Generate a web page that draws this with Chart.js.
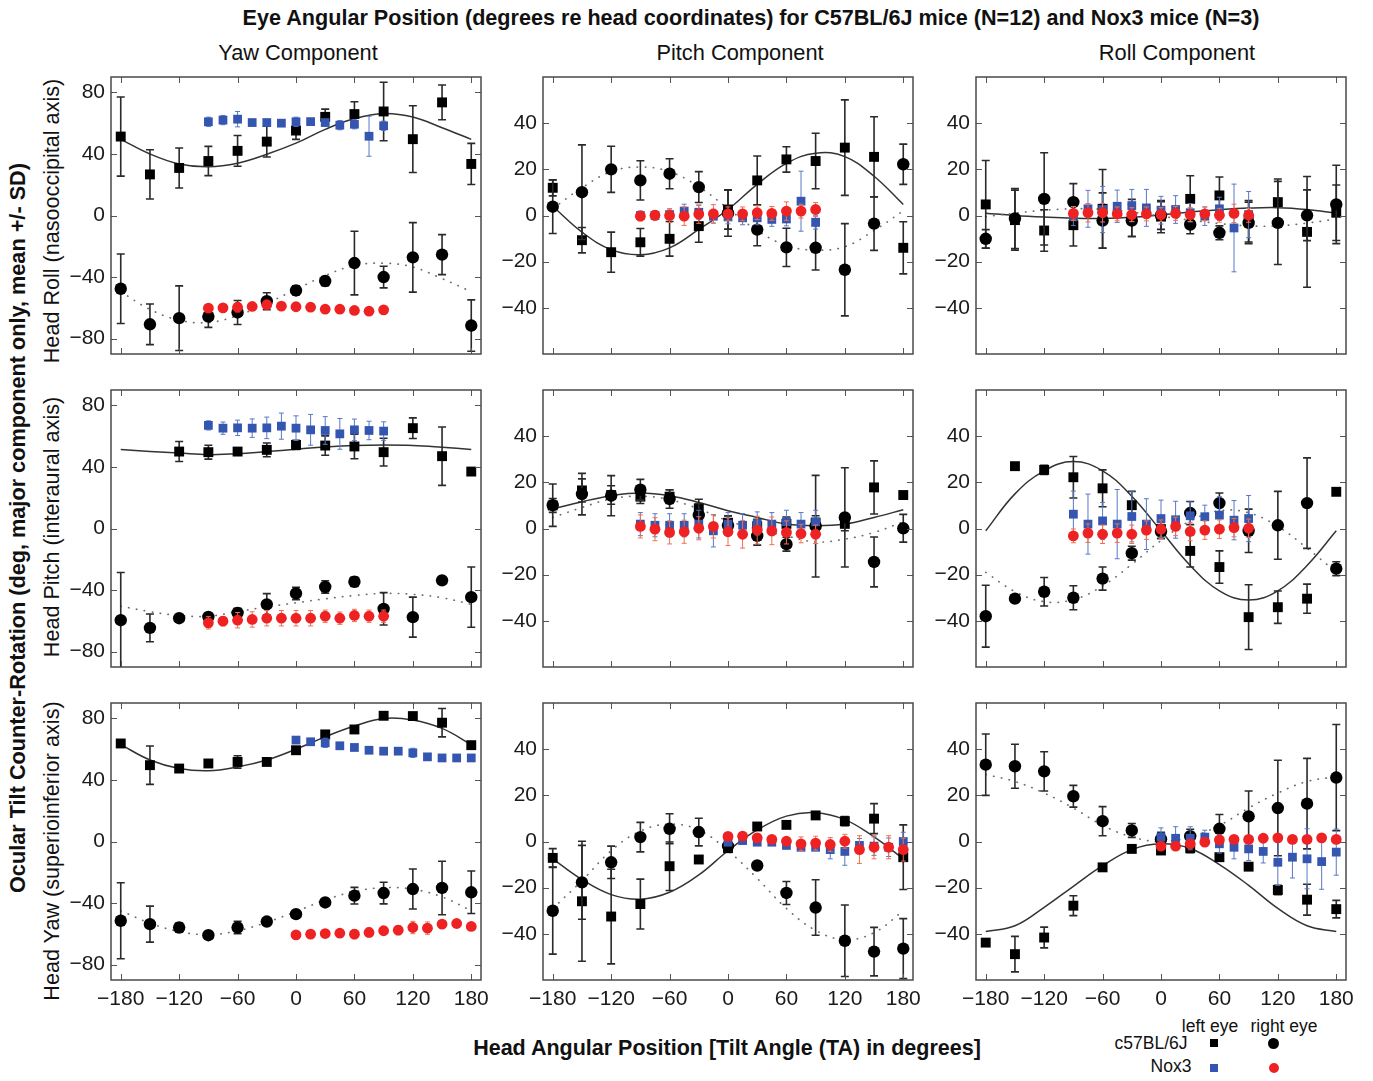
<!DOCTYPE html>
<html><head><meta charset="utf-8">
<script src="https://cdn.jsdelivr.net/npm/chart.js@4.4.1/dist/chart.umd.min.js"></script>
<style>
html,body{margin:0;padding:0;background:#fff;}
body{width:1373px;height:1081px;position:relative;overflow:hidden;font-family:"Liberation Sans",Arial,sans-serif;color:#111;}
canvas{position:absolute;}
.t{position:absolute;white-space:nowrap;transform:translate(-50%,-50%);line-height:1;}
.rot{transform:translate(-50%,-50%) rotate(-90deg);}
.b{font-weight:bold;}
.mk{position:absolute;}
</style></head><body>
<div class="t b" style="left:751px;top:18px;font-size:21.6px;">Eye Angular Position (degrees re head coordinates) for C57BL/6J mice (N=12) and Nox3 mice (N=3)</div>
<div class="t" style="left:298px;top:53px;font-size:21.8px;">Yaw Component</div>
<div class="t" style="left:740px;top:53px;font-size:21.8px;">Pitch Component</div>
<div class="t" style="left:1177px;top:53px;font-size:21.8px;">Roll Component</div>
<div class="t rot" style="left:52px;top:221px;font-size:21.6px;">Head Roll (nasooccipital axis)</div>
<div class="t rot" style="left:52px;top:527px;font-size:21.6px;">Head Pitch (interaural axis)</div>
<div class="t rot" style="left:52px;top:851px;font-size:21.6px;">Head Yaw (superioinferior axis)</div>
<div class="t rot b" style="left:18px;top:528px;font-size:21.7px;">Ocular Tilt Counter-Rotation (deg, major component only, mean +/- SD)</div>
<div class="t b" style="left:727px;top:1049px;font-size:21.5px;">Head Angular Position [Tilt Angle (TA) in degrees]</div>
<div class="t" style="left:1210px;top:1027px;font-size:17.5px;">left eye</div>
<div class="t" style="left:1284px;top:1027px;font-size:17.5px;">right eye</div>
<div class="t" style="left:1151px;top:1044px;font-size:17.5px;">c57BL/6J</div>
<div class="t" style="left:1171px;top:1067px;font-size:17.5px;">Nox3</div>
<div class="mk" style="left:1210px;top:1039px;width:8px;height:8px;background:#000;"></div>
<div class="mk" style="left:1268px;top:1038px;width:11px;height:11px;border-radius:50%;background:#000;"></div>
<div class="mk" style="left:1210px;top:1064px;width:8px;height:8px;background:#3556b0;"></div>
<div class="mk" style="left:1269px;top:1063px;width:10px;height:10px;border-radius:50%;background:#ee2222;"></div>
<script>
// ---------- tick positions (degrees) ----------
const taC57 = [-180,-150,-120,-90,-60,-30,0,30,60,90,120,150,180];
const taNoxMid = [-90,-75,-60,-45,-30,-15,0,15,30,45,60,75,90];
const taNoxPos = [0,15,30,45,60,75,90,105,120,135,150,165,180];
const taFit = [-180,-150,-120,-90,-60,-30,0,30,60,90,120,150,180];
const xTicks = [-180,-120,-60,0,60,120,180];
const yTicksYaw = [-80,-40,0,40,80];
const yTicksPR = [-40,-20,0,20,40];

// ---------- Head Roll : Yaw component ----------
const rollY_c57L = [51.3,26.7,30.9,35.4,42,48,55.2,64.1,65.9,67.6,49.6,73.5,33.5];
const rollY_c57L_sd = [25.7,16,13,9.5,10,10,5.7,5,8,19,21.7,11.3,13.4];
const rollY_c57R = [-47.6,-70.7,-66.7,-65.7,-63,-55.7,-48.7,-42.6,-30.9,-40,-27.2,-25.4,-71.5];
const rollY_c57R_sd = [22.6,13.2,21,7,7.8,5.5,3,3,20.7,7,22.6,13,16.7];
const rollY_noxL = [60.9,62,62.6,60.4,60.4,60,60.9,61,60.4,58.7,59.3,51.5,58.3];
const rollY_noxL_sd = [3,3,5,1,1,1,3,1,1,3,3,13,3];
const rollY_noxR = [-60.2,-60,-59.6,-59.1,-58,-58.9,-59.3,-59.6,-60.9,-60.9,-61.7,-62.2,-61.3];
const rollY_noxR_sd = [2,2,3,2,2,2,2,2,2,2,2,2,2];
const rollY_fitL = [49.5,40,33.5,31.7,34,39.8,47,56,63,66.3,64,57,49.5];
const rollY_fitR = [-49.5,-61,-68,-69.5,-65,-57,-48,-39,-32.5,-31,-33.5,-41,-49.5];

// ---------- Head Roll : Pitch component ----------
const rollP_c57L = [12,-10.7,-15.9,-11.6,-10.1,-4.6,2.6,15.2,24.3,23.6,29.4,25.4,-14];
const rollP_c57L_sd = [3.5,5.5,8.7,6,7.5,7,8.5,10.6,5.5,12,20.7,17.4,11.3];
const rollP_c57R = [3.8,10.1,20,15.2,18.1,12.3,1,-6.1,-13.8,-14,-23.5,-3.5,22.2];
const rollP_c57R_sd = [11.6,20.5,10,8.5,6.5,6.7,10,7,8.3,9.6,20,11.6,8.7];
const rollP_noxL = [0,0,0.4,1.9,1.4,-0.3,-0.6,-1,-1,-1.7,-1.5,6.2,-2.9];
const rollP_noxL_sd = [2,2,2,3,3,3,3,3,3,3,3,13,3];
const rollP_noxR = [-0.3,0.1,0,-0.3,0.6,0.7,0.7,0.7,1.2,0.9,1.9,1.9,2.6];
const rollP_noxR_sd = [2,2,3,4,4,4,3,3,3,3,4,3,3];
const rollP_fitL = [4,-7.2,-14.8,-17,-14,-6,2.6,13.5,22.6,27,25.5,17,4.8];
const rollP_fitR = [3,12,19,21,19,12.5,3,-6.5,-13,-15,-13.5,-6.5,2];

// ---------- Head Roll : Roll component ----------
const rollR_c57L = [4.8,-2,-6.5,-4.2,2.9,-1,-0.5,7.2,8.7,-2.5,5.8,-7.1,1.2];
const rollR_c57L_sd = [19,13,9,9,17,8,7,10,8,9,10,24,12];
const rollR_c57R = [-10.1,-1.3,7.2,5.8,-2.2,-2.2,0,-3.9,-7.5,-3.2,-3.2,0.1,4.8];
const rollR_c57R_sd = [4,13,20,8,12,7,6,4,3,9,18,11,17];
const rollR_noxL = [-0.3,2.9,2.6,4,4.3,3.3,2.3,2.6,1.2,-0.3,2.9,-5.4,0.4];
const rollR_noxL_sd = [4,8,10,7,7,8,6,6,4,4,5,19,10];
const rollR_noxR = [0.9,1.2,1.2,0.7,0.4,0.7,0.4,0.9,0.4,0.7,0.1,0.9,0.1];
const rollR_noxR_sd = [3,4,4,3,3,3,3,3,3,3,3,4,3];
const rollR_fitL = [1,0,-0.7,-1.2,-1.3,-0.8,0.3,1.5,2.5,3.2,3.4,2.6,1];
const rollR_fitR = [-0.5,1,2.3,2.9,2.7,1.5,-0.3,-2,-3.5,-4.5,-4.5,-3.3,-1.5];

// ---------- Head Pitch : Yaw component ----------
const pitchY_c57L = [null,null,50,49.6,50,51.1,54.3,53.9,53.3,49.6,65.2,47,37];
const pitchY_c57L_sd = [0,0,6.5,4.5,2,4.5,3,6.3,8,9,6.7,19,0];
const pitchY_c57R = [-59.6,-64.6,-58.3,-57.4,-54.8,-49.3,-42.2,-38,-34.6,-52.2,-57.6,-33.7,-44.6];
const pitchY_c57R_sd = [31,9,2,2,3,7,4,4,3,10.5,13,2,19.6];
const pitchY_noxL = [67,65.2,65.4,65.2,65.4,66.5,65.2,64.1,63.7,61.5,64.1,63.7,63.3];
const pitchY_noxL_sd = [3,4,5,6,7,8.5,8,10,9,10,7,6,6];
const pitchY_noxR = [-61.3,-60.2,-59.6,-59.1,-58.3,-58.3,-58.3,-58.3,-57,-58.3,-56.5,-57,-57];
const pitchY_noxR_sd = [4,3,5,5,5,5,5,5,4,4,4,4,4];
const pitchY_fitL = [51.3,50,49,48,48.5,50,51.5,53,54,54.3,54,52.8,51.3];
const pitchY_fitR = [-50.5,-54,-56.5,-57,-54,-51,-48.3,-45.7,-43.5,-42.2,-42.8,-45,-49.3];

// ---------- Head Pitch : Pitch component ----------
const pitchP_c57L = [10,16.5,14.5,13.8,13.8,8.7,2.5,1,2,2.5,2,17.8,14.5];
const pitchP_c57L_sd = [3,5,4,3,3,4,3,3,3,3,3,11.5,0];
const pitchP_c57R = [10.1,14.9,14.2,16.8,12.8,5.8,1.4,-3.2,-6.8,1,4.8,-14.5,0.1];
const pitchP_c57R_sd = [9.2,9,8.7,4.5,4,5,4,4,3,22,21.5,10.8,6];
const pitchP_noxL = [1.9,1.4,1.4,1.4,1.9,-1,1.9,1.4,2.2,1.9,2.9,1.9,2.9];
const pitchP_noxL_sd = [5,5,5,5,6,7,5,5,5,5,5,5,5];
const pitchP_noxR = [0.9,-0.3,-1.7,-1.4,0.1,0.9,-1.4,-2.5,-0.7,-1,-1.7,-2.2,-2.5];
const pitchP_noxR_sd = [5,5,5,5,5,5,6,6,6,6,5,4,4];
const pitchP_fitL = [8.4,11.6,14.2,15.4,14.2,11.3,7.7,4.8,1.9,1.2,1.9,4.8,8.1];
const pitchP_fitR = [4.8,9.1,12.8,14,12.5,8.5,3.3,-0.3,-3.2,-5.8,-4.6,-1.7,2.9];

// ---------- Head Pitch : Roll component ----------
const pitchR_c57L = [null,27,25.4,22.2,17.4,10.1,-0.3,-9.7,-16.7,-38.4,-34.1,-30.4,15.9];
const pitchR_c57L_sd = [0,0,2,9,8,6,4,7,7,14,7,6.3,0];
const pitchR_c57R = [-38,-30.4,-27.4,-30,-21.7,-10.7,-1.3,6.7,11,-1,1.4,11,-17.4];
const pitchR_c57R_sd = [13.4,1,6.2,5.2,5,3,3,5,4.4,9.4,14.7,19.6,3];
const pitchR_noxL = [6.2,1.9,3.3,1.9,5.2,1.9,4.3,3.8,5.5,5.1,5.8,3.6,4.3];
const pitchR_noxL_sd = [10,13,8,15,11,11,8,8,6,5,8,8.5,10];
const pitchR_noxR = [-3.2,-2,-2.5,-2,-2.5,-0.7,-0.3,0.9,-1.3,-0.7,-0.3,0.4,0.1];
const pitchR_noxR_sd = [3,4,4,4,4,4,4,4,4,4,4,4,4];
const pitchR_fitL = [-1,15,25,29,25,14,-1,-16,-27,-31,-27,-16,-1];
const pitchR_fitR = [-19,-27.3,-31.7,-30.8,-24.9,-15.5,-5.2,3.3,7.7,6.8,0.9,-8.5,-19];

// ---------- Head Yaw : Yaw component ----------
const yawY_c57L = [63.7,49.6,47.4,50.7,51.7,51.7,59.3,69.6,72.8,81.7,81.5,77.2,62.6];
const yawY_c57L_sd = [0,12.5,1,2,4,1,2,2,0,0,0,9.2,0];
const yawY_c57R = [-51.5,-53.7,-55.9,-60.9,-55.9,-52,-47.2,-39.6,-35.2,-33.5,-30.9,-30.2,-33];
const yawY_c57R_sd = [24.7,11.7,3,1,4,1,2,2,5.4,7,13,17.4,13.8];
const yawY_noxL = [65.9,64.8,64.1,62.2,61.1,59.3,58.7,58.7,57.6,55,54.3,54.3,54.3];
const yawY_noxL_sd = [2,1,3,1,1,1,1,1,3,1,1,1,1];
const yawY_noxR = [-60.7,-60.2,-59.8,-59.6,-60.2,-59.1,-58,-57.6,-55.9,-56.3,-53.7,-53.3,-55.2];
const yawY_noxR_sd = [2,2,2,2,3,3,2,3,4,4,2,2,2];
const yawY_fitL = [63,53,47.5,46,48.5,53,60,68,75,80,79,73.5,63];
const yawY_fitR = [-45,-53,-58.5,-60.5,-58,-52.5,-45.5,-38,-32.5,-30,-31,-36,-45];

// ---------- Head Yaw : Pitch component ----------
const yawP_c57L = [-7.1,-25.9,-32.5,-27.1,-10.7,-7.8,-2.9,6.5,7.2,11.3,8.8,9.9,-6.8];
const yawP_c57L_sd = [4,26,20.5,10.8,10.5,1,1,1,0,0,2,6.5,14];
const yawP_c57R = [-30,-17.7,-9,1.9,5.5,4.1,-2,-10.4,-22.3,-28.6,-43,-47.7,-46.4];
const yawP_c57R_sd = [18.8,16,7,6.4,6.5,6,2,1,5,12,15.5,10.5,13];
const yawP_noxL = [-0.3,0.4,-0.3,-0.3,-1.7,-2.5,-2.5,-3.5,-4.3,-1.7,-2,-2.5,0];
const yawP_noxL_sd = [1,1,1,1,1,1,1,4,6,3,4,4,4];
const yawP_noxR = [2.2,2.3,1.6,0.9,0.1,-1,-0.7,-1.3,0.1,-3.5,-2.5,-2.5,-3.5];
const yawP_noxR_sd = [1,1,1,1,1,3,3,3,3,6,5,5,5];
const yawP_fitL = [-7.5,-16.5,-23,-25,-22,-14.5,-4,5,11,12.5,9.5,2,-7.5];
const yawP_fitR = [-29,-17,-4,4.5,7.5,5,-4,-16,-29,-38.5,-42.5,-39.5,-30];

// ---------- Head Yaw : Roll component ----------
const yawR_c57L = [-43.8,-48.8,-41.6,-27.8,-11.2,-3.2,-3.9,-2.9,-6.8,-10.9,-21,-25.2,-29.3];
const yawR_c57L_sd = [0,7.7,4.5,4.3,1,1,1,2,1,1,2,6.7,3.8];
const yawR_c57R = [33.3,32.6,30.4,19.6,8.8,4.8,1,2.3,5.5,10.9,14.5,16.4,27.7];
const yawR_c57R_sd = [13.3,9.5,8.5,4.7,6.3,3,3,3,6.2,11,20.7,19.6,23];
const yawR_noxL = [1.9,1.4,1.4,1.9,-1,-2.5,-3.2,-4.3,-9,-6.8,-7.5,-8.7,-4.6];
const yawR_noxL_sd = [4,5,5,3,4,5,5,5,10,9,13,12,10];
const yawR_noxR = [-2,-2,-1,-0.3,0.7,0.9,0.9,1.4,1.6,0.9,0.9,1.6,0.9];
const yawR_noxR_sd = [1,1,1,1,1,1,1,1,1,1,1,1,1];
const yawR_fitL = [-39,-36.5,-28.5,-19.4,-10.5,-3.5,-1,-3,-10,-19,-29,-36.5,-39];
const yawR_fitR = [29,26,21,14.5,7,2,0,2,7,14.5,21,26,28];

// ---------- panel table built from the arrays ----------
const panels = [
  [0,0,-90,90,yTicksYaw,taNoxMid,rollY_c57L,rollY_c57L_sd,rollY_c57R,rollY_c57R_sd,rollY_noxL,rollY_noxL_sd,rollY_noxR,rollY_noxR_sd,rollY_fitL,rollY_fitR],
  [0,1,-60,60,yTicksPR,taNoxMid,rollP_c57L,rollP_c57L_sd,rollP_c57R,rollP_c57R_sd,rollP_noxL,rollP_noxL_sd,rollP_noxR,rollP_noxR_sd,rollP_fitL,rollP_fitR],
  [0,2,-60,60,yTicksPR,taNoxMid,rollR_c57L,rollR_c57L_sd,rollR_c57R,rollR_c57R_sd,rollR_noxL,rollR_noxL_sd,rollR_noxR,rollR_noxR_sd,rollR_fitL,rollR_fitR],
  [1,0,-90,90,yTicksYaw,taNoxMid,pitchY_c57L,pitchY_c57L_sd,pitchY_c57R,pitchY_c57R_sd,pitchY_noxL,pitchY_noxL_sd,pitchY_noxR,pitchY_noxR_sd,pitchY_fitL,pitchY_fitR],
  [1,1,-60,60,yTicksPR,taNoxMid,pitchP_c57L,pitchP_c57L_sd,pitchP_c57R,pitchP_c57R_sd,pitchP_noxL,pitchP_noxL_sd,pitchP_noxR,pitchP_noxR_sd,pitchP_fitL,pitchP_fitR],
  [1,2,-60,60,yTicksPR,taNoxMid,pitchR_c57L,pitchR_c57L_sd,pitchR_c57R,pitchR_c57R_sd,pitchR_noxL,pitchR_noxL_sd,pitchR_noxR,pitchR_noxR_sd,pitchR_fitL,pitchR_fitR],
  [2,0,-90,90,yTicksYaw,taNoxPos,yawY_c57L,yawY_c57L_sd,yawY_c57R,yawY_c57R_sd,yawY_noxL,yawY_noxL_sd,yawY_noxR,yawY_noxR_sd,yawY_fitL,yawY_fitR],
  [2,1,-60,60,yTicksPR,taNoxPos,yawP_c57L,yawP_c57L_sd,yawP_c57R,yawP_c57R_sd,yawP_noxL,yawP_noxL_sd,yawP_noxR,yawP_noxR_sd,yawP_fitL,yawP_fitR],
  [2,2,-60,60,yTicksPR,taNoxPos,yawR_c57L,yawR_c57L_sd,yawR_c57R,yawR_c57R_sd,yawR_noxL,yawR_noxL_sd,yawR_noxR,yawR_noxR_sd,yawR_fitL,yawR_fitR]
];

// ---------- layout ----------
const PLOT_LEFT = [110.7, 542.7, 975.7];
const PLOT_TOP = [77, 390, 702.5];
const PLOT_W = 370, PLOT_H = 277;
const PAD_L = 70, PAD_T = 10, PAD_R = 12, PAD_B = 42;

const fmt = v => (v < 0 ? '\u2212' + Math.abs(v) : String(v));
const pts = (xs, ys, sd) => xs.map((x, i) => ({x: x, y: ys[i], sd: sd ? sd[i] : 0})).filter(p => p.y !== null && p.y !== undefined);

const errorBars = {
  id: 'errorBars',
  beforeDatasetDraw(chart, args) {
    const ds = chart.data.datasets[args.index];
    if (!ds.err) return;
    const ctx = chart.ctx, ys = chart.scales.y, ca = chart.chartArea;
    const meta = chart.getDatasetMeta(args.index);
    ctx.save();
    ctx.beginPath(); ctx.rect(ca.left, ca.top, ca.right - ca.left, ca.bottom - ca.top); ctx.clip();
    ctx.strokeStyle = ds.err.color; ctx.lineWidth = ds.err.width;
    meta.data.forEach((el, j) => {
      const p = ds.data[j];
      if (!p.sd) return;
      const yt = ys.getPixelForValue(p.y + p.sd), yb = ys.getPixelForValue(p.y - p.sd);
      const x = el.x, c = ds.err.cap;
      ctx.beginPath();
      ctx.moveTo(x, yt); ctx.lineTo(x, yb);
      ctx.moveTo(x - c, yt); ctx.lineTo(x + c, yt);
      ctx.moveTo(x - c, yb); ctx.lineTo(x + c, yb);
      ctx.stroke();
    });
    ctx.restore();
  }
};

const frameTicks = {
  id: 'frameTicks',
  afterDraw(chart) {
    const ctx = chart.ctx, ca = chart.chartArea;
    ctx.save();
    ctx.strokeStyle = '#555'; ctx.lineWidth = 1;
    const tl = 6;
    ctx.beginPath();
    chart.scales.y.ticks.forEach(t => {
      const y = Math.round(chart.scales.y.getPixelForValue(t.value)) + 0.5;
      ctx.moveTo(ca.left, y); ctx.lineTo(ca.left + tl, y);
      ctx.moveTo(ca.right, y); ctx.lineTo(ca.right - tl, y);
    });
    chart.scales.x.ticks.forEach(t => {
      const x = Math.round(chart.scales.x.getPixelForValue(t.value)) + 0.5;
      ctx.moveTo(x, ca.bottom); ctx.lineTo(x, ca.bottom - tl);
      ctx.moveTo(x, ca.top); ctx.lineTo(x, ca.top + tl);
    });
    ctx.stroke();
    ctx.strokeStyle = '#4a4a4a'; ctx.lineWidth = 1.5;
    ctx.strokeRect(ca.left, ca.top, ca.right - ca.left, ca.bottom - ca.top);
    ctx.restore();
  }
};

Chart.defaults.font.family = '"Liberation Sans", Arial, sans-serif';
Chart.defaults.color = '#1a1a1a';

panels.forEach(p => {
  const [row, col, yMin, yMax, yTicks, noxX, c57L, c57Lsd, c57R, c57Rsd, noxL, noxLsd, noxR, noxRsd, fitL, fitR] = p;
  const cv = document.createElement('canvas');
  const W = PLOT_W + PAD_L + PAD_R, H = PLOT_H + PAD_T + PAD_B;
  cv.width = W; cv.height = H;
  cv.style.left = (PLOT_LEFT[col] - PAD_L) + 'px';
  cv.style.top = (PLOT_TOP[row] - PAD_T) + 'px';
  cv.style.width = W + 'px'; cv.style.height = H + 'px';
  document.body.appendChild(cv);
  new Chart(cv, {
    type: 'scatter',
    data: {
      datasets: [
        {data: pts(taFit, fitL), showLine: true, tension: 0.4, pointRadius: 0, borderColor: '#333', borderWidth: 1.5, order: 6},
        {data: pts(taFit, fitR), showLine: true, tension: 0.4, pointRadius: 0, borderColor: '#6e6e6e', borderWidth: 1.7, borderDash: [0.4, 7.6], borderCapStyle: 'round', order: 5},
        {data: pts(taC57, c57L, c57Lsd), pointStyle: 'rect', pointRadius: 7, backgroundColor: '#000', borderColor: '#000', borderWidth: 0, order: 4, err: {color: '#2a2a2a', width: 1.6, cap: 4}},
        {data: pts(taC57, c57R, c57Rsd), pointStyle: 'circle', pointRadius: 6.2, backgroundColor: '#000', borderColor: '#000', borderWidth: 0, order: 3, err: {color: '#2a2a2a', width: 1.6, cap: 4}},
        {data: pts(noxX, noxL, noxLsd), pointStyle: 'rect', pointRadius: 6.2, backgroundColor: '#3556b0', borderColor: '#3556b0', borderWidth: 0, order: 2, err: {color: '#5a78c8', width: 1, cap: 2.5}},
        {data: pts(noxX, noxR, noxRsd), pointStyle: 'circle', pointRadius: 5.4, backgroundColor: '#ee2222', borderColor: '#ee2222', borderWidth: 0, order: 1, err: {color: '#f0704f', width: 1, cap: 2.5}}
      ]
    },
    options: {
      responsive: false, animation: false, devicePixelRatio: 1,
      layout: {padding: {top: PAD_T, right: PAD_R, left: 0, bottom: 0}, autoPadding: false},
      plugins: {legend: {display: false}, tooltip: {enabled: false}},
      scales: {
        x: {
          type: 'linear', min: -190, max: 190,
          grid: {display: false, drawTicks: false}, border: {display: false},
          afterBuildTicks: s => { s.ticks = xTicks.map(v => ({value: v})); },
          afterFit: s => { s.height = PAD_B; s.paddingLeft = 0; s.paddingRight = 0; s.paddingTop = 0; s.paddingBottom = 0; },
          ticks: {display: row === 2, autoSkip: false, maxRotation: 0, padding: 7, font: {size: 21}, callback: v => fmt(v)}
        },
        y: {
          type: 'linear', min: yMin, max: yMax,
          grid: {display: false, drawTicks: false}, border: {display: false},
          afterBuildTicks: s => { s.ticks = yTicks.map(v => ({value: v})); },
          afterFit: s => { s.width = PAD_L; s.paddingTop = 0; s.paddingBottom = 0; s.paddingLeft = 0; s.paddingRight = 0; },
          ticks: {autoSkip: false, padding: 6, font: {size: 21}, callback: v => fmt(v)}
        }
      }
    },
    plugins: [errorBars, frameTicks]
  });
});
</script>
</body></html>
